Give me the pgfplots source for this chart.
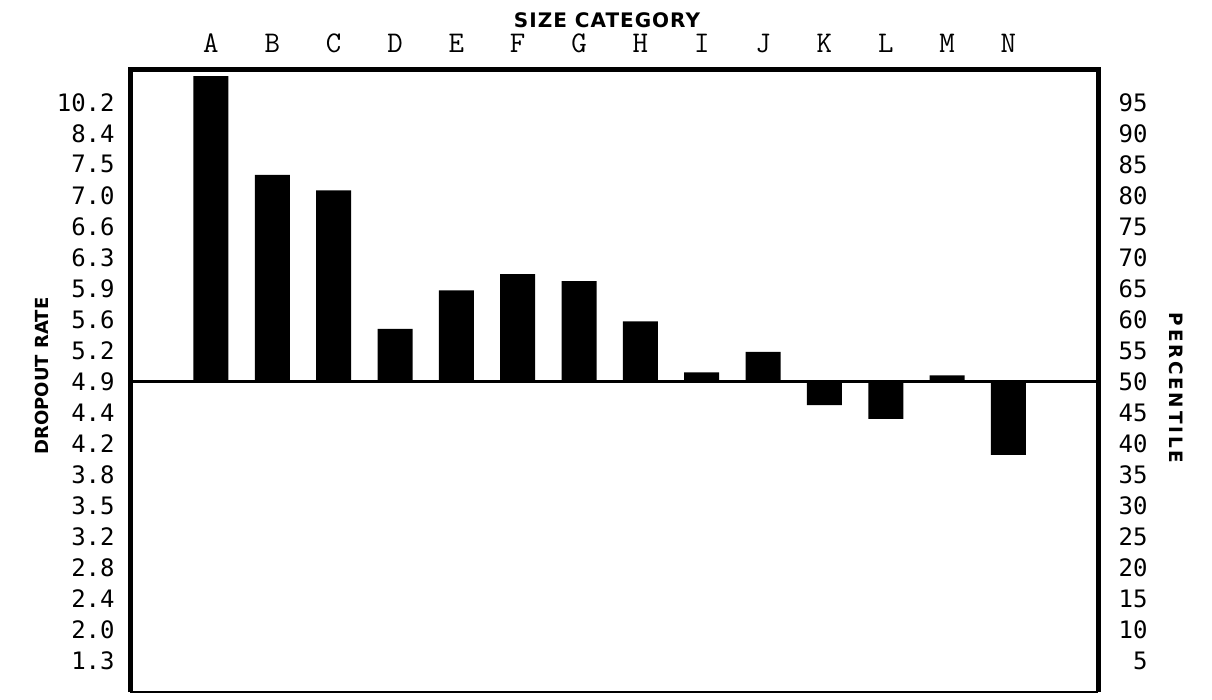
\documentclass[border=0pt]{standalone}
\usepackage{fontspec}
\setmainfont{DejaVu Sans}
\newfontfamily\tickfont{DejaVu Sans Mono}
\usepackage{pgfplots}
\usepackage{pgfplotstable}
\pgfplotsset{compat=1.18}

% percentile of each size category (bars hang from the 50th percentile)
\pgfplotstableread{
x cat pct
0 A 99.2
1 B 83.3
2 C 80.8
3 D 58.5
4 E 64.7
5 F 67.3
6 G 66.2
7 H 59.7
8 I 51.5
9 J 54.8
10 K 46.2
11 L 44.0
12 M 51.0
13 N 38.2
}\sizedata

\begin{document}
\begin{tikzpicture}[x=1pt,y=1pt]
\path (0,0) rectangle (606,-350);
\begin{axis}[
  at={(65pt,-35pt)}, anchor=north west,
  scale only axis, width=484pt, height=311pt,
  xmin=-1.32, xmax=14.46, ymin=-50, ymax=50.2,
  axis line style={draw=none},
  major tick length=0pt,
  clip=false,
  xtick={0,...,13},
  xticklabels={A,B,C,D,E,F,G,H,I,J,K,L,M,N},
  xticklabel pos=upper,
  xticklabel style={font=\ttfamily\fontsize{15}{16}\selectfont, anchor=base, inner sep=0pt, yshift=8.5pt},
  ytick={-45,-40,...,45},
  yticklabels={1.3,2.0,2.4,2.8,3.2,3.5,3.8,4.2,4.4,4.9,5.2,5.6,5.9,6.3,6.6,7.0,7.5,8.4,10.2},
  yticklabel style={font=\tickfont\fontsize{12}{14}\selectfont, anchor=east, inner sep=0pt, xshift=-7.5pt},
]
\addplot[ybar, bar width=17.5pt, fill=black, draw=none]
  table[x=x, y expr=\thisrow{pct}-50] {\sizedata};
\draw[line width=1.2pt] (axis cs:-1.32,0) -- (axis cs:14.46,0);
\draw[line width=1pt] (rel axis cs:0,0) -- (rel axis cs:1,0);
\draw[line width=2.5pt] (rel axis cs:0,0) -- (rel axis cs:0,1) -- (rel axis cs:1,1) -- (rel axis cs:1,0);
\end{axis}
\begin{axis}[
  at={(65pt,-35pt)}, anchor=north west,
  scale only axis, width=484pt, height=311pt,
  xmin=-1.32, xmax=14.46, ymin=-50, ymax=50.2,
  axis y line*=right, hide x axis,
  axis line style={draw=none},
  major tick length=0pt,
  ytick={-45,-40,...,45},
  yticklabels={5,10,15,20,25,30,35,40,45,50,55,60,65,70,75,80,85,90,95},
  yticklabel style={font=\tickfont\fontsize{12}{14}\selectfont, anchor=east, inner sep=0pt, xshift=25pt},
]
\addplot[draw=none] coordinates {(0,0)};
\end{axis}
\node[rotate=90, font=\bfseries\fontsize{9}{9}\selectfont] at (21,-188) {DROPOUT RATE};
\node[rotate=-90, font=\bfseries\fontsize{9.2}{9}\selectfont\addfontfeature{LetterSpace=15}] at (588,-194) {PERCENTILE};
\node[font=\bfseries\fontsize{10}{10}\selectfont\addfontfeature{LetterSpace=5}] at (303.5,-10) {SIZE CATEGORY};
\end{tikzpicture}
\end{document}
